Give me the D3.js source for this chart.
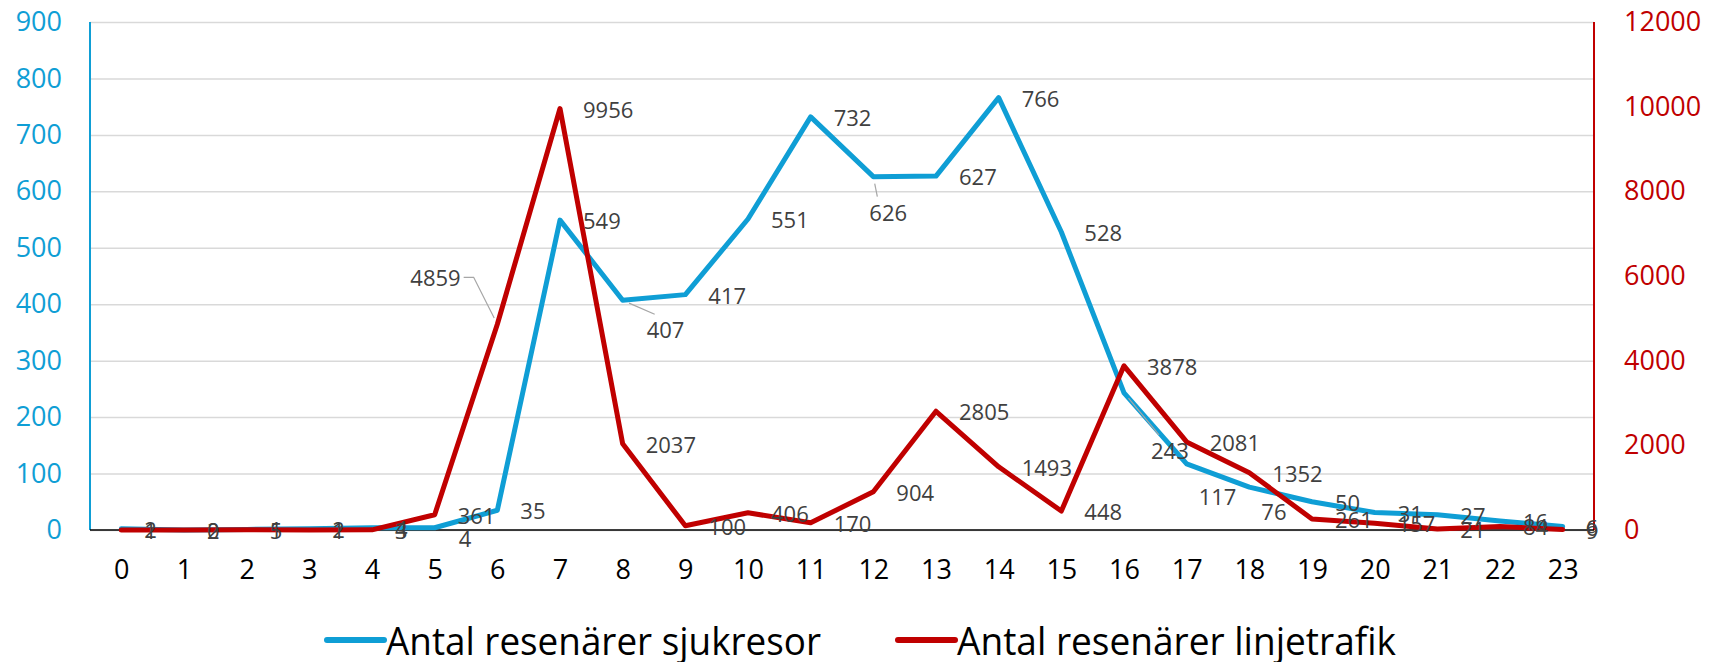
<!DOCTYPE html>
<html>
<head>
<meta charset="utf-8">
<script src="https://cdn.jsdelivr.net/npm/d3@7"></script>
<style>
    body { margin: 0; background: #fff; }
    svg text { font-family: "Open Sans", "DejaVu Sans", sans-serif; }
</style>
</head>
<body>
<div id="vis"></div>
<script>
// Hours of the day (x categories)
var hours = ['0', '1', '2', '3', '4', '5', '6', '7', '8', '9', '10', '11',
    '12', '13', '14', '15', '16', '17', '18', '19', '20', '21', '22', '23'];

// Antal resenärer sjukresor (left axis)
var sjukresor = [2, 0, 1, 2, 4, 4, 35, 549, 407, 417, 551, 732,
    626, 627, 766, 528, 243, 117, 76, 50, 31, 27, 16, 6];

// Antal resenärer linjetrafik (right axis)
var linjetrafik = [1, 2, 5, 1, 3, 361, 4859, 9956, 2037, 100, 406, 170,
    904, 2805, 1493, 448, 3878, 2081, 1352, 261, 157, 21, 84, 9];

var leftTicks = [0, 100, 200, 300, 400, 500, 600, 700, 800, 900];
var rightTicks = [0, 2000, 4000, 6000, 8000, 10000, 12000];

var seriesNames = ['Antal resenärer sjukresor', 'Antal resenärer linjetrafik'];

(function () {
    var width = 1721;
    var height = 662;

    var margin = { left: 90, right: 127, top: 22, bottom: 132 };
    var drawWidth = width - margin.left - margin.right;
    var drawHeight = height - margin.top - margin.bottom;

    var blue = '#0f9ed5';
    var red = '#c00000';

    var svg = d3.select('#vis')
        .append('svg')
        .attr('width', width)
        .attr('height', height);

    var g = svg.append('g')
        .attr('transform', 'translate(' + margin.left + ',' + margin.top + ')');

    var xScale = d3.scalePoint()
        .domain(hours)
        .range([0, drawWidth])
        .padding(0.5);

    var yLeft = d3.scaleLinear().domain([0, 900]).range([drawHeight, 0]);
    var yRight = d3.scaleLinear().domain([0, 12000]).range([drawHeight, 0]);

    // Gridlines
    g.append('g')
        .attr('class', 'grid')
        .call(d3.axisLeft(yLeft).tickValues(leftTicks).tickSize(-drawWidth).tickFormat(''))
        .call(function (s) {
            s.select('.domain').remove();
            s.selectAll('line').attr('stroke', '#d9d9d9').attr('stroke-width', 1.5);
        });

    // Left axis labels
    g.append('g')
        .call(d3.axisLeft(yLeft).tickValues(leftTicks).tickSize(0).tickPadding(28).tickFormat(d3.format('d')))
        .call(function (s) {
            s.select('.domain').remove();
            s.selectAll('text').attr('fill', blue).style('font-size', '27px');
        });

    // Right axis labels
    g.append('g')
        .attr('transform', 'translate(' + drawWidth + ',0)')
        .call(d3.axisRight(yRight).tickValues(rightTicks).tickSize(0).tickPadding(30).tickFormat(d3.format('d')))
        .call(function (s) {
            s.select('.domain').remove();
            s.selectAll('text').attr('fill', red).style('font-size', '27px');
        });

    // X axis labels
    g.append('g')
        .attr('transform', 'translate(0,' + drawHeight + ')')
        .call(d3.axisBottom(xScale).tickSize(0).tickPadding(30))
        .call(function (s) {
            s.select('.domain').remove();
            s.selectAll('text').attr('fill', '#000').style('font-size', '27px');
        });

    // Axis lines
    g.append('line')
        .attr('x1', 0).attr('x2', 0).attr('y1', 0).attr('y2', drawHeight)
        .attr('stroke', blue).attr('stroke-width', 2);
    g.append('line')
        .attr('x1', drawWidth).attr('x2', drawWidth).attr('y1', 0).attr('y2', drawHeight)
        .attr('stroke', red).attr('stroke-width', 2);
    g.append('line')
        .attr('x1', 0).attr('x2', drawWidth).attr('y1', drawHeight).attr('y2', drawHeight)
        .attr('stroke', '#000').attr('stroke-width', 1.5);

    var lineLeft = d3.line()
        .x(function (d, i) { return xScale(hours[i]); })
        .y(function (d) { return yLeft(d); });
    var lineRight = d3.line()
        .x(function (d, i) { return xScale(hours[i]); })
        .y(function (d) { return yRight(d); });

    g.append('path')
        .datum(sjukresor)
        .attr('d', lineLeft)
        .attr('fill', 'none')
        .attr('stroke', blue)
        .attr('stroke-width', 5)
        .attr('stroke-linejoin', 'round')
        .attr('stroke-linecap', 'round');

    g.append('path')
        .datum(linjetrafik)
        .attr('d', lineRight)
        .attr('fill', 'none')
        .attr('stroke', red)
        .attr('stroke-width', 5)
        .attr('stroke-linejoin', 'round')
        .attr('stroke-linecap', 'round');

    // Label nudges for labels that were dragged away from default "right" position
    var nudge = {
        'b5': { dx: 24, dy: 10 },
        'b8': { dx: 24, dy: 29, leader: true },
        'b12': { dx: -4, dy: 35, leader: true },
        'b16': { dx: 27, dy: 57, leader: true },
        'b17': { dx: 12, dy: 32 },
        'b18': { dx: 12, dy: 24 },
        'r6': { dx: -87, dy: -47, leader: true }
    };

    var labelLayer = g.append('g');

    var addLabels = function (values, scale, key) {
        values.forEach(function (v, i) {
            var px = xScale(hours[i]);
            var py = scale(v);
            var n = nudge[key + i] || { dx: 23, dy: 0 };
            var t = labelLayer.append('text')
                .attr('x', px + n.dx)
                .attr('y', py + n.dy)
                .attr('dominant-baseline', 'central')
                .attr('fill', '#404040')
                .style('font-size', '22px')
                .text(v);
            if (n.leader) {
                var b = t.node().getBBox();
                var lx, ly = b.y + b.height / 2, stub;
                if (b.x > px) {
                    lx = b.x - 3; stub = lx - 8;
                } else {
                    lx = b.x + b.width + 3; stub = lx + 10;
                }
                if (b.y > py + 10 && Math.abs(b.x - px) < 30) {
                    // label right below: line from top of label
                    lx = b.x + 8; ly = b.y; stub = lx;
                }
                var ang = Math.atan2(py - ly, px - stub);
                var ex = px - Math.cos(ang) * 7;
                var ey = py - Math.sin(ang) * 7;
                labelLayer.append('path')
                    .attr('d', 'M' + lx + ',' + ly + 'L' + stub + ',' + ly + 'L' + ex + ',' + ey)
                    .attr('fill', 'none')
                    .attr('stroke', '#a6a6a6')
                    .attr('stroke-width', 1.2);
            }
        });
    };

    addLabels(sjukresor, yLeft, 'b');
    addLabels(linjetrafik, yRight, 'r');

    // Legend
    var legend = svg.append('g').attr('transform', 'translate(0,640)');
    var legendItems = [
        { name: seriesNames[0], color: blue, x: 327, len: 435 },
        { name: seriesNames[1], color: red, x: 898, len: 439 }
    ];
    legendItems.forEach(function (d) {
        legend.append('line')
            .attr('x1', d.x).attr('x2', d.x + 57)
            .attr('y1', 0).attr('y2', 0)
            .attr('stroke', d.color)
            .attr('stroke-width', 6)
            .attr('stroke-linecap', 'round');
        legend.append('text')
            .attr('x', d.x + 59)
            .attr('y', 0)
            .attr('dominant-baseline', 'central')
            .attr('fill', '#000')
            .attr('textLength', d.len)
            .attr('lengthAdjust', 'spacingAndGlyphs')
            .style('font-size', '38px')
            .text(d.name);
    });
})();
</script>
</body>
</html>
